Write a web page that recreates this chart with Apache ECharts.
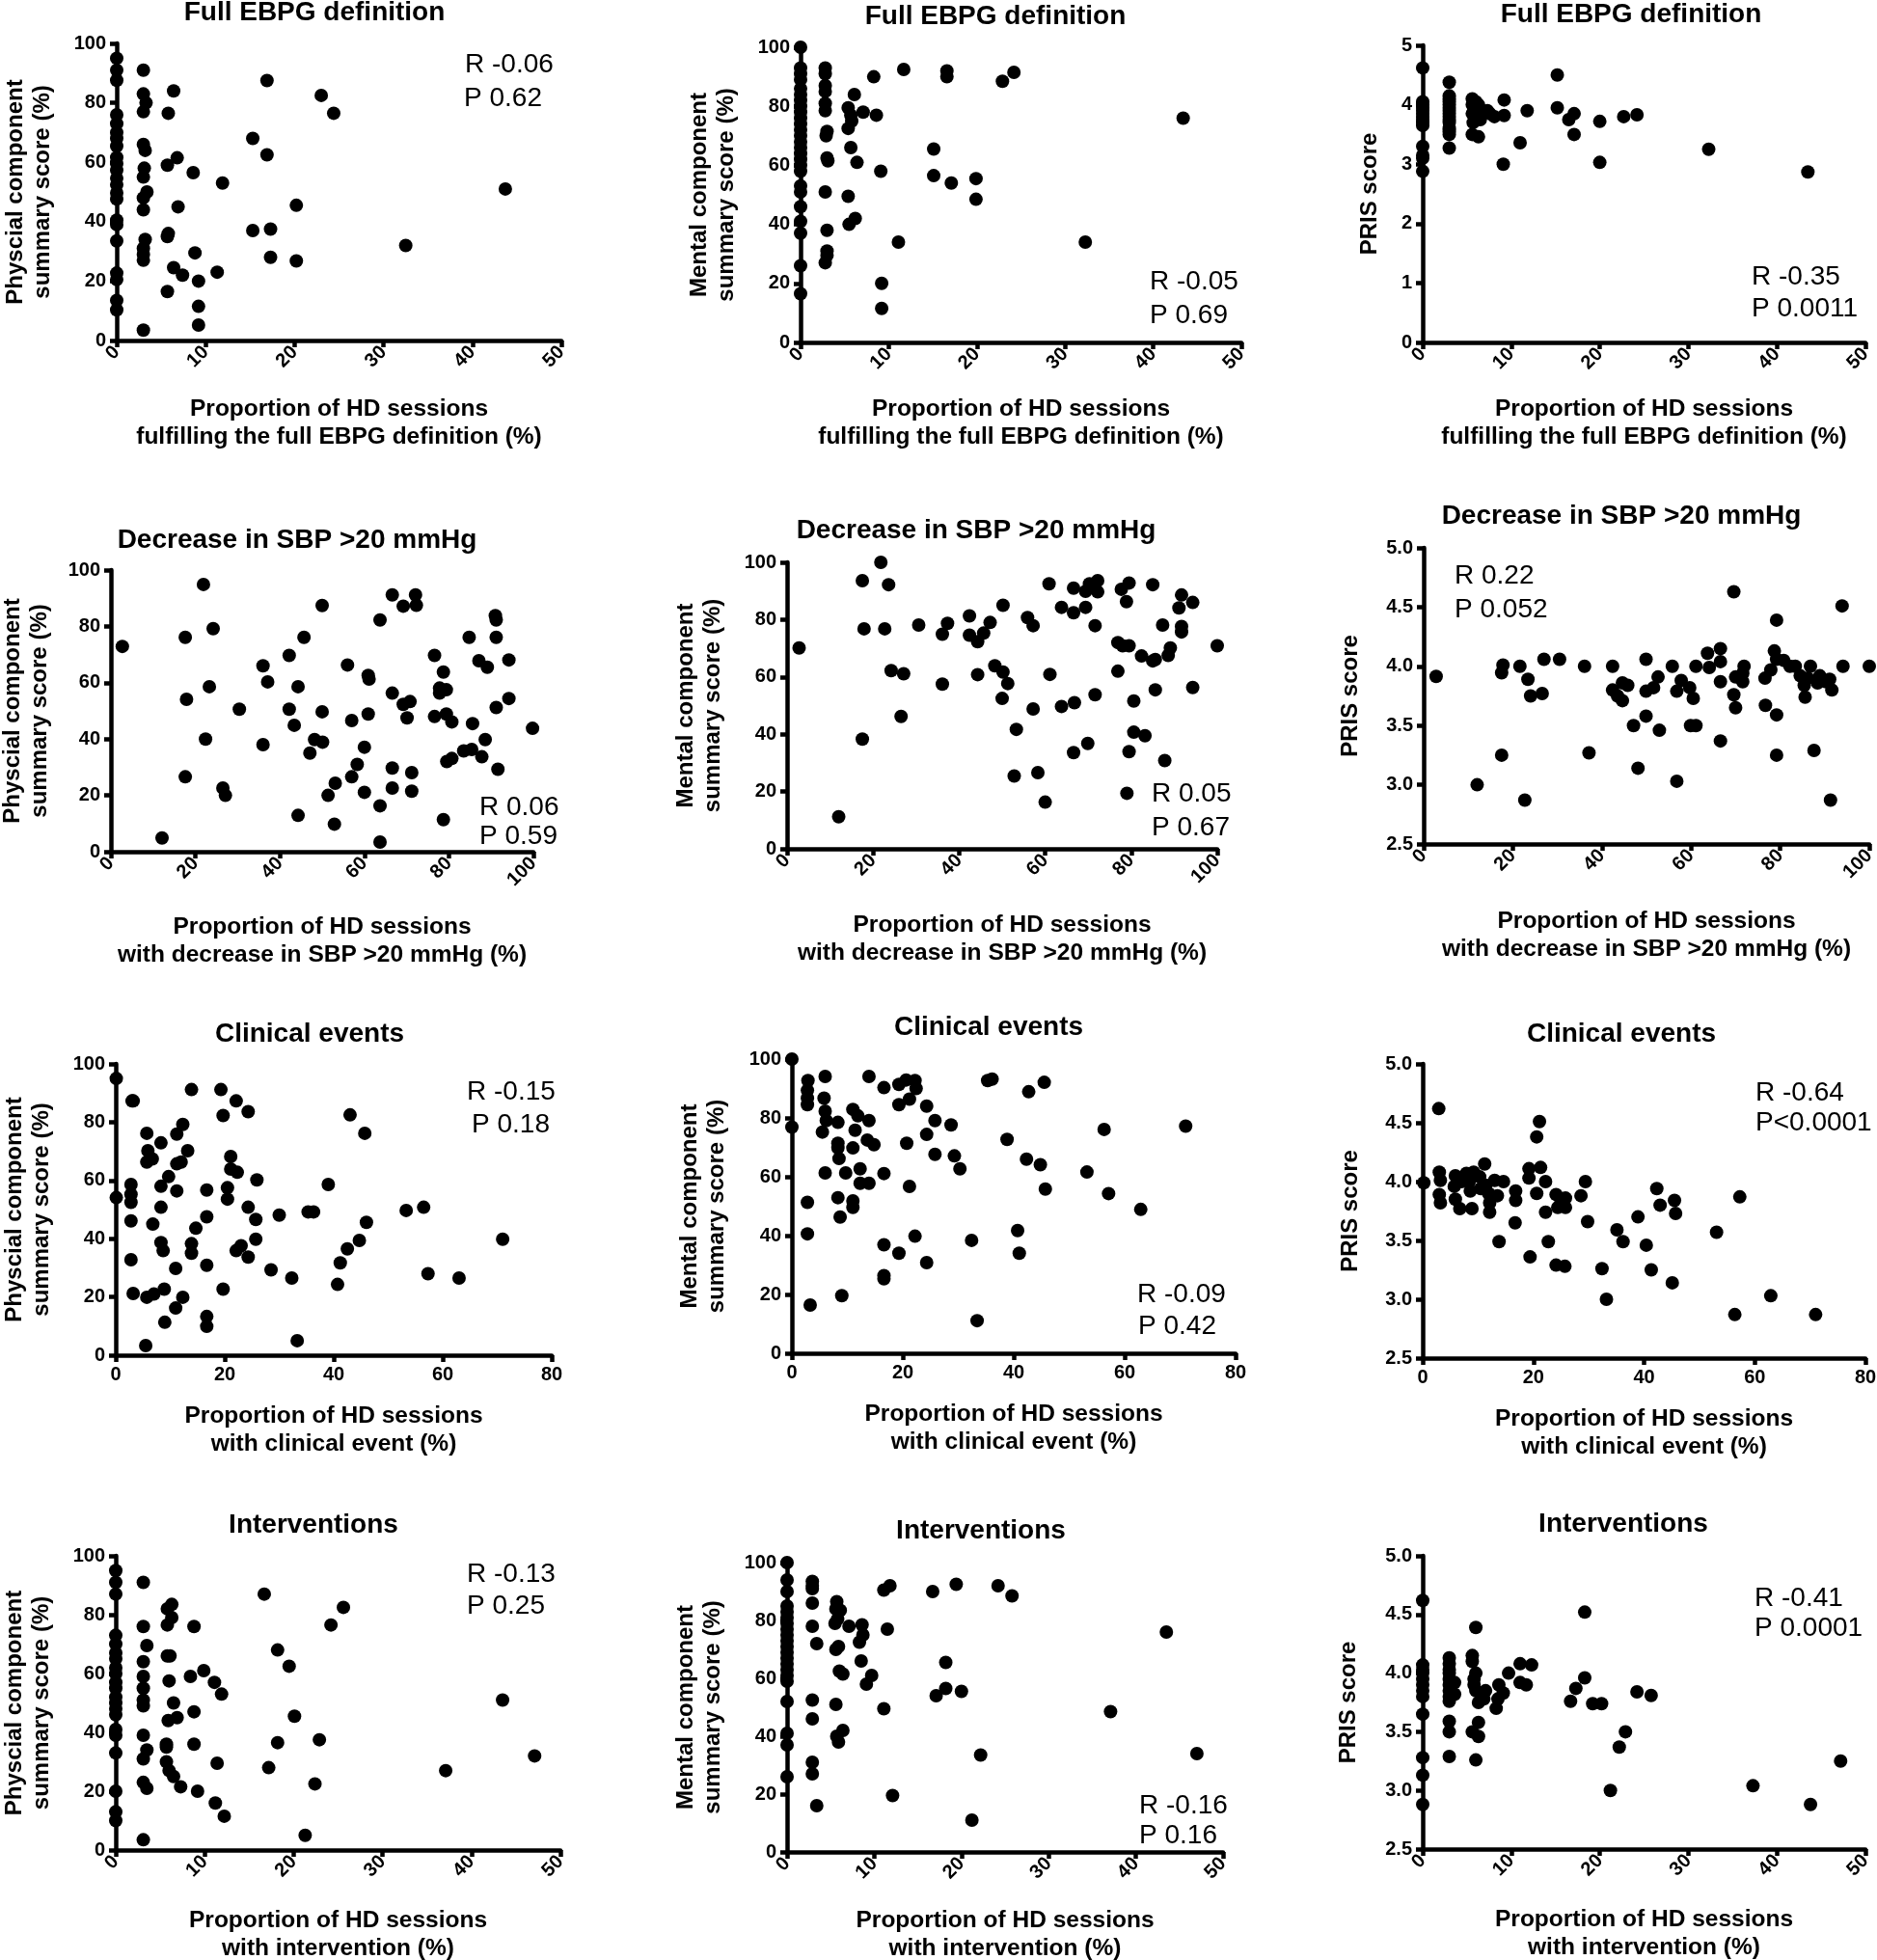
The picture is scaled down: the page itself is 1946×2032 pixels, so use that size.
<!DOCTYPE html>
<html><head><meta charset="utf-8">
<script src="https://cdn.jsdelivr.net/npm/echarts@6/dist/echarts.min.js"></script>
<style>html,body{margin:0;padding:0;background:#fff}#c{width:1946px;height:2032px}</style>
</head><body><div id="c"></div>
<script>
// ---------- DATA ----------
// Row 1: Full EBPG definition
const pcsEbpg = [
 [0,95],[0,91],[0,87.6],[0,76],[0,73],[0,70],[0,68],[0,65.4],[0,61.6],[0,59.5],[0,57.3],[0,54.6],[0,52.4],[0,49.7],[0,47.6],[0,40.5],[0,39],[0,33.5],[0,22.7],[0,20.5],[0,13.5],[0,10.3],
 [3,91],[3,83],[3.3,80],[3,77],[3,66],[3.2,64],[3.1,58],[3,55],[3.4,50],[3,48],[3,44],[3.2,34],[3,31],[3,29],[3,27],[3,3.5],
 [6.4,84],[5.8,76.5],[5.7,59],[6.8,61.5],[6.9,45],[5.8,36],[5.7,35],[6.4,24.5],[7.4,22],[5.7,16.5],
 [8.6,56.5],[8.8,29.5],[9.2,20],[9.2,11.5],[9.2,5.2],[11.3,23],[11.9,53],[15.3,68],[15.3,37],
 [16.9,87.5],[16.9,62.5],[17.3,37.5],[17.3,28],[20.2,45.5],[20.2,26.8],[23,82.5],[24.4,76.5],[32.5,32],[43.7,51]
];
const mcsEbpg = [
 [0,100],[0,93],[0,91],[0,89],[0,86],[0,84],[0,82],[0,80],[0,78],[0,76],[0,74],[0,72],[0,70],[0,68],[0,66],[0,64],[0,62],[0,60],[0,58],[0,53],[0,51],[0,46],[0,41],[0,37],[0,26],[0,16.5],
 [2.8,93],[2.8,91],[2.8,87],[2.8,85],[2.8,81],[2.8,78.5],[3,71.5],[2.9,70],[3,62.5],[3.1,61.5],[2.8,51],[3,38],[3,31],[3,29.5],[2.8,27],
 [6.1,84],[5.4,79.5],[5.7,77],[5.8,75],[5.4,72.5],[5.7,66],[6.4,61],[5.4,49.5],[6.2,42],[5.5,40],
 [7.1,78],[8.3,90],[8.6,77],[9.1,58],[9.2,20],[9.2,11.5],[11.1,34],[11.7,92.5],[15.1,65.5],[15.1,56.5],
 [16.6,92],[16.6,90],[17.1,54],[19.9,55.5],[19.9,48.5],[22.9,88.5],[24.2,91.5],[32.3,34],[43.4,76]
];
const prisEbpg = [
 [0,4.62],[0,4.05],[0,4.0],[0,3.95],[0,3.9],[0,3.85],[0,3.8],[0,3.75],[0,3.7],[0,3.65],[0,3.3],[0,3.15],[0,3.1],[0,2.88],
 [3,4.38],[3,4.15],[3,4.1],[3,4.05],[3,4.0],[3,3.95],[3,3.9],[3,3.85],[3,3.8],[3,3.75],[3,3.7],[3,3.6],[3,3.55],[3,3.5],[3,3.27],
 [5.6,4.1],[6,4.05],[5.6,4.0],[6.3,4.0],[5.8,3.95],[6.5,3.9],[5.6,3.85],[6,3.8],[6.5,3.75],[5.7,3.7],[5.6,3.5],[6.3,3.46],
 [7.3,3.9],[7.6,3.85],[8.1,3.8],[9.2,4.08],[9.2,3.82],[9.1,3.0],[11,3.36],[11.8,3.9],[15.2,4.5],[15.2,3.95],
 [16.5,3.75],[17.1,3.85],[17.1,3.5],[20,3.72],[20,3.03],[22.7,3.8],[24.2,3.83],[32.3,3.25],[43.5,2.87]
];
// Row 2: Decrease in SBP > 20 mmHg
const pcsSbp = [
 [2.7,72.9],[12.1,4.9],[17.6,76.1],[17.9,54.1],[17.6,26.6],[21.9,94.9],[24.2,79.2],[23.3,58.6],[22.4,40],[26.5,22.6],[27.1,20],
 [30.4,50.6],[36,66],[37.1,60.3],[36,38],[42.2,69.7],[45.7,76.1],[44.3,58.6],[42.2,50.6],[43.4,44.9],[44.3,12.9],[47.1,35],
 [48.2,39.8],[50.1,38.9],[50,49.7],[50,87.4],[51.4,20],[53.1,24.3],[52.9,9.8],[56,66.3],[57,46.6],[58.3,31],[57,26.6],
 [60,37.1],[60.9,62.6],[61.1,61.3],[60.9,48.9],[60,21.1],[63.7,82.3],[63.7,16.3],[63.7,3.4],[66.6,91.2],[66.6,56.3],
 [66.6,29.7],[66.6,22.6],[69.2,87.2],[72.1,91.2],[72.3,87.5],[69.2,52.3],[70.8,53.3],[70.1,47.5],[71.2,28.1],[71.2,21.5],
 [76.6,69.7],[78.7,63.8],[77.8,58.1],[77.8,56.3],[79.4,57.5],[76.6,48],[79.4,48.9],[80.7,46.1],[79.5,32],[80.7,33.1],
 [78.7,11.4],[84.8,76.1],[83.5,35.8],[85.4,36.3],[85.6,45.5],[87.1,67.8],[89.1,65.5],[87.8,33.7],[88.6,39.8],[91,83.8],
 [91.2,82.3],[91.2,76.1],[91.2,51.2],[91.6,29.3],[94.2,68.1],[94.2,54.4],[99.8,43.8]
];
const mcsSbp = [
 [2.8,70.1],[12,11.2],[17.5,93.6],[17.9,76.8],[17.5,38.3],[21.8,100],[23.6,92.2],[22.7,76.8],[24.2,62.2],[27.1,61.1],[26.5,46.2],
 [30.6,78.1],[36.1,74.9],[37.3,78.7],[36.1,57.5],[42.4,81.3],[42.4,74.6],[44.3,72.3],[45.7,75.3],[47.2,79],[44.3,60.8],
 [48.3,63.9],[50.2,85],[50.2,61.7],[51.3,57.7],[50,52.5],[53.3,41.7],[52.8,25.4],[55.9,80.7],[57.2,77.9],[57.2,48.8],
 [58.3,26.6],[60,16.3],[60.9,92.5],[61.1,60.9],[63.8,84.3],[63.8,49.7],[66.6,91],[66.6,82.4],[66.8,51],[66.6,33.6],
 [69.4,84.3],[69.4,89.9],[70.3,92.5],[72.2,93.6],[72.2,89.7],[71.6,77.9],[71.6,53.8],[69.9,36.8],[77.7,90.6],[79.5,92.8],
 [78.9,86.3],[76.9,72],[78,70.9],[79.5,70.9],[76.9,62],[80.6,51.6],[80.6,40.7],[83.2,39.5],[79.5,33.9],[79,19.4],
 [85,92.2],[82.4,67.3],[85,65.6],[85.6,66.1],[85.6,55.5],[87.3,78.1],[87.8,30.8],[89.1,70.1],[88.6,67.5],[91.1,84.1],
 [91.7,88.6],[91.7,77.6],[91.7,75.7],[94.3,86],[94.3,56.3],[100,70.9]
];
const prisSbp = [
 [2.8,3.915],[12,3.0],[17.8,4.01],[17.5,3.945],[17.5,3.25],[21.6,4.0],[23.4,3.89],[24,3.75],[26.6,3.77],[27,4.06],[30.5,4.06],
 [22.7,2.87],[36.1,4.0],[37.1,3.27],[42.4,4.0],[42.4,3.8],[43.5,3.75],[44.6,3.71],[44.6,3.86],[45.8,3.84],[47.1,3.5],
 [48.1,3.14],[49.9,4.06],[49.9,3.58],[49.9,3.79],[51.6,3.82],[52.6,3.91],[52.9,3.46],[55.8,4.0],[56.8,3.79],[57.8,3.88],
 [56.8,3.03],[59.7,3.82],[60.5,3.73],[59.9,3.5],[61.1,3.5],[61.1,4.0],[63.7,4.11],[64.1,3.99],[66.6,4.15],[66.6,4.04],
 [66.6,3.87],[66.6,3.37],[69.6,4.63],[69.6,3.76],[70,3.65],[70,3.91],[71.9,4.0],[71.6,3.87],[71.6,3.94],[76.6,3.9],
 [77.9,3.97],[76.7,3.67],[79.2,4.39],[78.7,4.13],[79.2,4.06],[79.2,3.59],[79.2,3.25],[80.8,4.05],[82.2,4.0],[83.4,4.0],
 [84.5,3.92],[85.4,3.84],[85.6,3.74],[86.8,4.0],[86.2,3.9],[87.6,3.29],[88.9,3.92],[88.4,3.86],[91.1,3.89],[91.6,3.8],
 [91.3,2.87],[93.9,4.51],[94.1,4.0],[100,4.0],[90.3,3.87]
];
// Row 3: Clinical events
const pcsClin = [
 [0.1,95],[0.1,54.1],[3,87.3],[3.2,87.3],[2.8,58.6],[2.8,55.2],[2.8,52.5],[2.8,46.1],[2.8,32.8],[3.2,21.2],[5.7,76.2],
 [5.9,70.2],[5.7,66.3],[6.7,67.4],[6.8,45],[5.7,19.9],[7,21],[5.5,3.3],[8.3,72.9],[8.3,58],[8.3,50.8],[8.3,38.7],
 [8.7,35.9],[8.9,22.7],[9,11.3],[9.7,61.3],[11.2,75.9],[12.3,79.2],[11.2,65.7],[12,66.3],[11.2,56.4],[11,29.8],
 [11,16.2],[12.3,19.9],[13.2,70.2],[13.9,91.2],[13.9,38.3],[13.9,35],[14.7,43.6],[16.7,56.7],[16.7,47.5],[16.7,30.9],
 [16.7,13.3],[16.7,9.9],[19.3,91.2],[19.7,82.3],[19.7,22.7],[20.5,57.5],[20.5,53.6],[21.1,68.2],[21.1,63.9],[22.3,62.8],
 [22.1,87.3],[22.1,35.9],[23,37.6],[24.3,83.6],[24.3,50.8],[24.3,33.7],[25.9,60.2],[25.7,46.6],[25.7,39.8],[28.5,29.3],
 [30,48.1],[32.3,26.5],[33.3,5],[35.3,49.2],[36.3,49.2],[39,58.6],[40.7,24.3],[41.2,31.7],[42.5,36.5],[43,82.5],
 [44.7,39.4],[45.7,76.2],[46,45.6],[53.3,49.7],[56.5,50.8],[57.3,28],[63,26.5],[71,39.8]
];
const mcsClin = [
 [0,100],[0,76.9],[2.9,92.7],[2.8,89.4],[2.8,86.7],[2.8,84.5],[2.8,51.3],[2.8,40.6],[3.3,16.4],[6,94.1],[5.8,86.7],
 [6,82.3],[6.2,79.1],[5.5,75.2],[6,61.3],[8.3,78.5],[8.3,71.4],[8.3,69.8],[8.5,66.2],[8.3,52.9],[8.7,46.3],[9.7,61.3],
 [9,19.6],[11,82.9],[11.9,80.7],[11.4,75.8],[11,69.8],[12.3,62.7],[12.3,57.8],[11,51.8],[11,49.6],[13.9,94.1],
 [13.9,79.1],[13.6,72.5],[14.8,70.9],[13.9,57.8],[16.6,90.3],[16.6,61.1],[16.6,36.9],[16.6,26.4],[16.6,25.3],[19.3,91.4],
 [20.6,92.9],[22.2,92.7],[22.4,90],[19.3,84.5],[21.2,86.4],[20.7,71.4],[21.2,56.7],[19.3,34],[22.2,39.8],[24.3,84],
 [24.3,74.4],[24.3,30.8],[25.8,79.1],[25.8,67.6],[28.7,77.6],[29.3,67.1],[30.3,62.7],[32.4,38.4],[33.4,11.1],[35.3,92.7],
 [36.1,93.2],[38.8,72.7],[40.7,41.7],[41,34],[42.7,88.9],[42.3,66],[44.8,64.1],[45.5,92.1],[45.7,55.8],[53.2,61.6],
 [56.3,76.1],[57.1,54.3],[62.9,48.9],[71,77.2]
];
const prisClin = [
 [0.2,3.99],[2.9,4.62],[3,4.08],[3.2,4.01],[3,3.89],[3.2,3.82],[5.9,4.05],[5.7,3.96],[5.9,3.85],[6.7,3.77],[7,4.0],
 [7.9,4.07],[8.6,3.92],[8.9,3.77],[8.4,4.0],[9.2,4.08],[10.3,4.04],[10.5,3.94],[11.2,4.15],[11.4,3.97],[11.9,3.9],
 [12.1,3.82],[12.1,3.74],[13,4.01],[13.5,3.88],[14.6,4.0],[13.8,3.49],[16.8,3.92],[16.8,3.84],[16.7,3.65],[19.2,4.11],
 [19.2,4.03],[19.4,3.36],[20.6,4.38],[21.1,4.51],[21.3,4.12],[20.6,3.9],[22.2,4.0],[22.2,3.74],[22.7,3.49],[24.1,3.89],
 [24.4,3.78],[25,3.84],[25.8,3.86],[25.8,3.78],[24.1,3.29],[25.7,3.28],[28.6,3.88],[29.4,4.0],[29.8,3.66],[32.4,3.26],
 [33.2,3.0],[35.1,3.59],[36.2,3.49],[38.9,3.7],[40.4,3.46],[41.3,3.25],[42.3,3.94],[42.9,3.8],[45.1,3.14],[45.5,3.84],
 [45.7,3.73],[53.1,3.57],[56.4,2.87],[57.3,3.87],[62.9,3.03],[71,2.87]
];
// Row 4: Interventions
const pcsInterv = [
 [0,95],[0,91],[0,87],[0,73],[0,70],[0,67],[0,65],[0,62],[0,60],[0,57],[0,55],[0,52],[0,50],[0,48],[0,46],[0,41],[0,39],[0,33],[0,20],[0,13],[0,10],
 [3.1,91],[3.1,76],[3.1,64],[3.1,59],[3.1,55],[3.1,51],[3.1,49],[3.1,39],[3.1,31],[3.1,23],[3.1,3.5],[3.5,69.5],[3.5,34],[3.5,21],
 [5.8,82],[6.3,83.5],[6.3,79],[5.8,76.5],[5.8,66],[6.1,66],[6,57.5],[6.5,50],[5.9,44],[6.9,45],[5.7,36],[5.7,35],[5.7,30],[6,27],[6.5,25],[7.3,21.5],
 [8.8,76],[8.4,59],[8.8,47],[8.8,36],[9.2,20],[9.9,61],[11.1,57],[11.9,53],[11.4,29.5],[11.2,16],[12.2,11.5],[16.7,87],[17.2,28],
 [18.2,68],[18.2,36.5],[19.5,62.5],[20.1,45.5],[21.3,5],[22.4,22.5],[22.9,37.5],[24.2,76.5],[25.6,82.5],[37.1,27],[43.5,51],[47.1,32]
];
const mcsInterv = [
 [0,100],[0,94],[0,90],[0,85],[0,83],[0,81],[0,79],[0,77],[0,75],[0,73],[0,71],[0,69],[0,67],[0,65],[0,63],[0,61],[0,59],[0,52],[0,41],[0,37],[0,26],
 [2.9,93.5],[2.9,92],[2.9,91],[2.9,86],[2.9,78],[2.9,52.5],[2.9,46],[2.9,31],[2.9,27],[3.4,16],[3.4,72],
 [5.7,86.5],[5.6,84],[6.1,83.5],[5.8,80.5],[5.5,79],[5.9,71],[5.6,70],[6,62.5],[6.4,61.5],[5.6,51],[6.4,42],[5.7,40],[5.9,38],
 [7.1,78],[8.6,78.5],[8.7,75],[8.3,72.5],[8.5,66],[9.1,58],[9.7,61],[11.1,90.5],[11.8,92],[11.5,77],[11.1,49.5],[12.1,19.5],
 [16.7,90],[17.1,54],[18.2,65.5],[18.2,56.5],[19.4,92.5],[20,55.5],[21.2,11],[22.2,33.5],[24.2,92],[25.8,88.5],[37.1,48.5],[43.5,76],[47,34]
];
const prisInterv = [
 [0,4.62],[0,4.07],[0,4.03],[0,4.0],[0,3.95],[0,3.9],[0,3.85],[0,3.8],[0,3.65],[0,3.28],[0,3.13],[0,2.88],
 [3,4.13],[3,4.08],[3,4.03],[3,4.0],[3,3.95],[3,3.9],[3,3.85],[3,3.8],[3,3.76],[3,3.59],[3,3.5],[3,3.29],[3.6,3.92],[3.6,3.82],
 [6,4.39],[5.6,4.15],[5.6,4.1],[6,4.0],[5.8,3.95],[5.8,3.9],[6,3.85],[6.3,3.75],[6.3,3.58],[5.6,3.5],[6.3,3.46],[6,3.26],
 [7.1,3.85],[6.9,3.78],[8.6,3.9],[9.1,3.83],[8.5,3.78],[8.3,3.7],[9.7,4.0],[11,4.08],[12.3,4.07],[11,3.92],[11.7,3.9],
 [16.7,3.76],[17.3,3.87],[18.3,3.96],[18.3,4.52],[19.2,3.74],[20.2,3.74],[21.2,3.0],[22.2,3.37],[22.9,3.5],[24.2,3.84],
 [25.8,3.81],[37.3,3.04],[43.8,2.88],[47.2,3.25]
];

const panelTitles = ['Full EBPG definition','Full EBPG definition','Full EBPG definition',
 'Decrease in SBP >20 mmHg','Decrease in SBP >20 mmHg','Decrease in SBP >20 mmHg',
 'Clinical events','Clinical events','Clinical events',
 'Interventions','Interventions','Interventions'];
const statR = ['R -0.06','R -0.05','R -0.35','R 0.06','R 0.05','R 0.22','R -0.15','R -0.09','R -0.64','R -0.13','R -0.16','R -0.41'];
const statP = ['P 0.62','P 0.69','P 0.0011','P 0.59','P 0.67','P 0.052','P 0.18','P 0.42','P<0.0001','P 0.25','P 0.16','P 0.0001'];

const xAxisNames = {
 ebpg: 'Proportion of HD sessions\nfulfilling the full EBPG definition (%)',
 sbp: 'Proportion of HD sessions\nwith decrease in SBP >20 mmHg (%)',
 clin: 'Proportion of HD sessions\nwith clinical event (%)',
 interv: 'Proportion of HD sessions\nwith intervention (%)'
};
const yAxisNames = {
 pcs: 'Physcial component\nsummary score (%)',
 mcs: 'Mental component\nsummary score (%)',
 pris: 'PRIS score'
};
const xTicks = { ebpg:[0,50,10], sbp:[0,100,20], clin:[0,80,20], interv:[0,50,10] };
const yTicks = { pcs:[0,100,20], mcs:[0,100,20], pris0:[0,5,1], pris:[2.5,5,0.5] };

// ---------- LAYOUT / STYLE ----------
const FONT = "'Liberation Sans', Arial, Helvetica, sans-serif";
const panels = [
 {data:pcsEbpg, x:'ebpg', y:'pcs', yt:'pcs', grid:[121,45,461,308], title:[326,3], ann:[[482,57],[481,92]], xGap:57, yGap:63, rot:45},
 {data:mcsEbpg, x:'ebpg', y:'mcs', yt:'mcs', grid:[830,49,457,306], title:[1032,7], ann:[[1192,282],[1192,317]], xGap:55, yGap:63, rot:45},
 {data:prisEbpg, x:'ebpg', y:'pris', yt:'pris0', grid:[1475,47,459,308], title:[1691,5], ann:[[1816,277],[1816,310]], xGap:55, yGap:41, rot:45},
 {data:pcsSbp, x:'sbp', y:'pcs', yt:'pcs', grid:[115,591,438,292], title:[308,550], ann:[[497,827],[497,857]], xGap:64, yGap:60, rot:45},
 {data:mcsSbp, x:'sbp', y:'mcs', yt:'mcs', grid:[816,583,446,297], title:[1012,540], ann:[[1194,813],[1194,848]], xGap:65, yGap:63, rot:45},
 {data:prisSbp, x:'sbp', y:'pris', yt:'pris', grid:[1476,568,462,307], title:[1681,525], ann:[[1508,587],[1508,622]], xGap:66, yGap:62, rot:45},
 {data:pcsClin, x:'clin', y:'pcs', yt:'pcs', grid:[120,1103,452,302], title:[321,1062], ann:[[484,1122],[489,1156]], xGap:49, yGap:63, rot:0},
 {data:mcsClin, x:'clin', y:'mcs', yt:'mcs', grid:[821,1098,460,305], title:[1025,1055], ann:[[1179,1332],[1180,1365]], xGap:49, yGap:64, rot:0},
 {data:prisClin, x:'clin', y:'pris', yt:'pris', grid:[1475,1103,459,305], title:[1681,1062], ann:[[1820,1123],[1820,1154]], xGap:49, yGap:61, rot:0},
 {data:pcsInterv, x:'interv', y:'pcs', yt:'pcs', grid:[120,1613,461,305], title:[325,1571], ann:[[484,1622],[484,1655]], xGap:59, yGap:63, rot:45},
 {data:mcsInterv, x:'interv', y:'mcs', yt:'mcs', grid:[816,1620,452,300], title:[1017,1577], ann:[[1181,1862],[1181,1893]], xGap:57, yGap:63, rot:45},
 {data:prisInterv, x:'interv', y:'pris', yt:'pris', grid:[1475,1613,459,304], title:[1683,1570], ann:[[1819,1647],[1819,1678]], xGap:59, yGap:63, rot:45}
];
const TITLE_SIZE = 28, ANN_SIZE = 28, TICK_SIZE = 20, XNAME_SIZE = 24.5, YNAME_SIZE = 24;

const grids=[], xAxes=[], yAxes=[], series=[], elements=[];
const axisLineStyle = {color:'#000', width:4.5};
panels.forEach((p,i)=>{
  grids.push({left:p.grid[0], top:p.grid[1], width:p.grid[2], height:p.grid[3], containLabel:false, outerBoundsMode:'none'});
  const xt = xTicks[p.x], yt = yTicks[p.yt];
  xAxes.push({
    gridIndex:i, type:'value', min:xt[0], max:xt[1], interval:xt[2],
    name:xAxisNames[p.x], nameLocation:'middle', nameGap:p.xGap,
    nameTextStyle:{color:'#000', fontFamily:FONT, fontWeight:'bold', fontSize:XNAME_SIZE, lineHeight:29},
    axisLine:{show:true, onZero:false, lineStyle:axisLineStyle},
    axisTick:{show:true, inside:false, length:7, lineStyle:axisLineStyle},
    axisLabel:{show:true, rotate:p.rot, margin:p.rot?9:10, color:'#000', fontFamily:FONT, fontWeight:'bold', fontSize:TICK_SIZE, showMinLabel:true, showMaxLabel:true, hideOverlap:false},
    splitLine:{show:false}
  });
  const dec = p.yt==='pris' ? 1 : 0;
  yAxes.push({
    gridIndex:i, type:'value', min:yt[0], max:yt[1], interval:yt[2],
    name:yAxisNames[p.y], nameLocation:'middle', nameGap:p.yGap,
    nameTextStyle:{color:'#000', fontFamily:FONT, fontWeight:'bold', fontSize:YNAME_SIZE, lineHeight:28},
    axisLine:{show:true, onZero:false, lineStyle:axisLineStyle},
    axisTick:{show:true, inside:false, length:7, lineStyle:axisLineStyle},
    axisLabel:{show:true, margin:11, color:'#000', fontFamily:FONT, fontWeight:'bold', fontSize:TICK_SIZE, formatter:v=>v.toFixed(dec), showMinLabel:true, showMaxLabel:true, hideOverlap:false},
    splitLine:{show:false}
  });
  series.push({type:'scatter', xAxisIndex:i, yAxisIndex:i, data:p.data, symbol:'circle', symbolSize:14,
    itemStyle:{color:'#000', opacity:1}, clip:false, silent:true, z:5});
  elements.push({type:'text', x:p.title[0], y:p.title[1]-0.13*TITLE_SIZE, z:10,
    style:{text:panelTitles[i], fill:'#000', fontFamily:FONT, fontWeight:'bold', fontSize:TITLE_SIZE, align:'center', textAlign:'center', verticalAlign:'top', textVerticalAlign:'top'}});
  [statR[i], statP[i]].forEach((t,k)=>{
    elements.push({type:'text', x:p.ann[k][0], y:p.ann[k][1]-0.13*ANN_SIZE, z:10,
      style:{text:t, fill:'#000', fontFamily:FONT, fontWeight:'normal', fontSize:ANN_SIZE, align:'left', textAlign:'left', verticalAlign:'top', textVerticalAlign:'top'}});
  });
});

const chart = echarts.init(document.getElementById('c'), null, {renderer:'canvas', width:1946, height:2032});
chart.setOption({
  backgroundColor:'#fff',
  animation:false,
  grid:grids, xAxis:xAxes, yAxis:yAxes, series:series,
  graphic:{elements:elements}
});
</script></body></html>
